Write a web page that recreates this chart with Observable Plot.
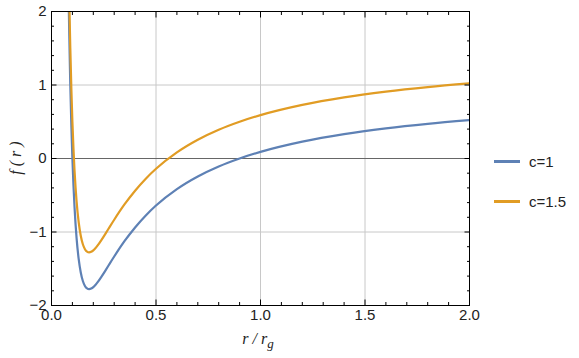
<!DOCTYPE html>
<html>
<head>
<meta charset="utf-8">
<script src="https://cdn.jsdelivr.net/npm/d3@7"></script>
<script src="https://cdn.jsdelivr.net/npm/@observablehq/plot@0.6"></script>
<style>
  html, body { margin: 0; padding: 0; background: #fff; }
  #wrap { position: relative; width: 579px; height: 358px; }
  .leg { position: absolute; left: 494px; font: 15px "Liberation Sans", Arial, sans-serif; color: #222; display: flex; align-items: center; }
  .leg span.sw { display: inline-block; width: 26px; height: 2.5px; margin-right: 9px; }
</style>
</head>
<body>
<div id="wrap"></div>
<script>
// r / r_g sample positions
const r = [0.080, 0.083, 0.085, 0.088, 0.090, 0.095, 0.100, 0.105, 0.110, 0.115, 0.120, 0.130, 0.140, 0.150, 0.160, 0.170, 0.180, 0.190, 0.200, 0.210, 0.220, 0.240, 0.260, 0.280, 0.300, 0.350, 0.400, 0.450, 0.500, 0.600, 0.700, 0.800, 0.900, 1.000, 1.200, 1.400, 1.600, 1.800, 2.000];
// f(r) for c=1 (blue)
const fC1 = [2.563, 2.016, 1.692, 1.258, 1.000, 0.446, 0.000, -0.361, -0.653, -0.890, -1.083, -1.367, -1.551, -1.667, -1.734, -1.768, -1.778, -1.770, -1.750, -1.721, -1.686, -1.604, -1.515, -1.423, -1.333, -1.122, -0.938, -0.778, -0.640, -0.417, -0.245, -0.109, 0.000, 0.090, 0.229, 0.332, 0.410, 0.472, 0.523];
// f(r) for c=1.5 (orange)
const fC15 = [3.063, 2.516, 2.192, 1.758, 1.500, 0.946, 0.500, 0.139, -0.153, -0.390, -0.583, -0.867, -1.051, -1.167, -1.234, -1.268, -1.278, -1.270, -1.250, -1.221, -1.186, -1.104, -1.015, -0.923, -0.833, -0.622, -0.438, -0.278, -0.140, 0.083, 0.255, 0.391, 0.500, 0.590, 0.729, 0.832, 0.910, 0.972, 1.023];

const seriesNames = ["c=1", "c=1.5"];
const seriesColors = ["#5E81B5", "#E19C24"];

const xMajor = [0, 0.5, 1, 1.5, 2];
const xMinor = [0.1, 0.2, 0.3, 0.4, 0.6, 0.7, 0.8, 0.9, 1.1, 1.2, 1.3, 1.4, 1.6, 1.7, 1.8, 1.9];
const xTickLabels = ["0.0", "0.5", "1.0", "1.5", "2.0"];
const yMajor = [-2, -1, 0, 1, 2];
const yMinor = [-1.8, -1.6, -1.4, -1.2, -0.8, -0.6, -0.4, -0.2, 0.2, 0.4, 0.6, 0.8, 1.2, 1.4, 1.6, 1.8];
const yTickLabels = ["\u22122", "\u22121", "0", "1", "2"];
const xGrid = [0.5, 1, 1.5];
const yGrid = [-1, 1];

const data1 = r.map((v, i) => ({r: v, f: fC1[i]}));
const data2 = r.map((v, i) => ({r: v, f: fC15[i]}));

const tickMarks = (axis, anchor, ticks, size) =>
  axis({anchor, ticks, tickSize: size, text: null, label: null, stroke: "#000", strokeOpacity: 1});

const chart = Plot.plot({
  width: 579,
  height: 358,
  marginLeft: 51,
  marginRight: 110,
  marginTop: 11,
  marginBottom: 53,
  style: {fontFamily: "'Liberation Sans', Arial, sans-serif", fontSize: "15px", color: "#222", background: "#fff"},
  x: {domain: [0, 2]},
  y: {domain: [-2, 2]},
  marks: [
    Plot.gridX(xGrid, {stroke: "#c8c8c8", strokeOpacity: 1, strokeWidth: 1}),
    Plot.gridY(yGrid, {stroke: "#c8c8c8", strokeOpacity: 1, strokeWidth: 1}),
    Plot.ruleY([0], {stroke: "#666", strokeWidth: 1}),
    Plot.line(data1, {x: "r", y: "f", stroke: seriesColors[0], strokeWidth: 2.2, curve: "monotone-x", clip: true}),
    Plot.line(data2, {x: "r", y: "f", stroke: seriesColors[1], strokeWidth: 2.2, curve: "monotone-x", clip: true}),
    tickMarks(Plot.axisX, "bottom", xMinor, -3),
    tickMarks(Plot.axisX, "bottom", xMajor, -5.5),
    tickMarks(Plot.axisX, "top", xMinor, -3),
    tickMarks(Plot.axisX, "top", xMajor, -5.5),
    tickMarks(Plot.axisY, "left", yMinor, -3),
    tickMarks(Plot.axisY, "left", yMajor, -5.5),
    tickMarks(Plot.axisY, "right", yMinor, -3),
    tickMarks(Plot.axisY, "right", yMajor, -5.5),
    Plot.axisX({anchor: "bottom", ticks: xMajor, tickSize: 0, tickPadding: 4, fontSize: 15, tickFormat: (d, i) => xTickLabels[i], label: null, fill: "#222"}),
    Plot.axisY({anchor: "left", ticks: yMajor, tickSize: 0, tickPadding: 5, fontSize: 15, tickFormat: (d, i) => yTickLabels[i], label: null, fill: "#222"}),
    Plot.frame({stroke: "#000", strokeWidth: 1})
  ]
});

const wrap = document.getElementById("wrap");
wrap.appendChild(chart);

// axis labels (italic serif as in the reference)
const svg = d3.select(chart);
const xl = svg.append("text")
  .attr("x", 258).attr("y", 344)
  .attr("text-anchor", "middle")
  .style("font-family", "'Liberation Serif', 'DejaVu Serif', serif")
  .style("font-style", "italic").style("font-size", "16px").attr("fill", "#222");
xl.append("tspan").text("r");
xl.append("tspan").text(" / ");
xl.append("tspan").text("r");
xl.append("tspan").attr("dy", 4).style("font-size", "13px").text("g");

svg.append("text")
  .attr("transform", "translate(21,158) rotate(-90)")
  .attr("text-anchor", "middle")
  .style("font-family", "'Liberation Serif', 'DejaVu Serif', serif")
  .style("font-style", "italic").style("font-size", "16px").attr("fill", "#222")
  .text("f ( r )");

// legend
const legTops = [153, 193];
seriesNames.forEach((name, i) => {
  const d = document.createElement("div");
  d.className = "leg";
  d.style.top = legTops[i] + "px";
  d.innerHTML = `<span class="sw" style="background:${seriesColors[i]}"></span><span>${name}</span>`;
  wrap.appendChild(d);
});
</script>
</body>
</html>
